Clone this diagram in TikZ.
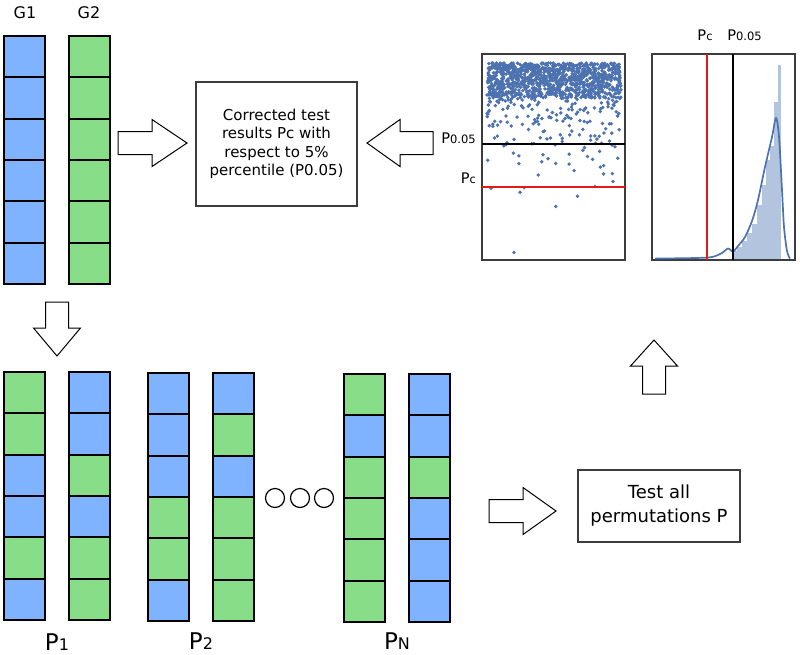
\documentclass[tikz,border=0pt]{standalone}
\usepackage{fontspec}
\setmainfont{DejaVu Sans}
\usepackage{tikz}
\usetikzlibrary{calc}

\definecolor{cb}{RGB}{127,178,255}
\definecolor{cg}{RGB}{136,221,136}
\definecolor{dotblue}{RGB}{76,114,176}
\definecolor{barblue}{RGB}{178,196,222}
\definecolor{frame}{RGB}{60,60,60}
\definecolor{pcred}{RGB}{230,25,25}

% big P with a smaller index after it
\newcommand{\plab}[3]{{\fontsize{#1}{#1}\selectfont P}{\fontsize{#2}{#2}\selectfont #3}}
% hollow block arrow: start, angle, length, head length
\newcommand{\fatarrow}[4]{%
\draw[fatarr,shift={#1},rotate=#2] (0,-11.5) -- (#3-#4,-11.5) -- (#3-#4,-23.5) -- (#3,0)
  -- (#3-#4,23.5) -- (#3-#4,11.5) -- (0,11.5) -- cycle;}
% one column of six cells: top left corner, colours
\newcommand{\gcolumn}[2]{%
\begin{scope}[shift={#1}]
\foreach \c [count=\i from 0] in {#2}
  \fill[\c] (0,\i*41.3) rectangle ++(41,41.3);
\foreach \i in {0,...,5}
  \draw[cell] (0,\i*41.3) rectangle ++(41,41.3);
\end{scope}}

\begin{document}
\begin{tikzpicture}[x=1pt,y=-1pt,
cell/.style={draw=black,line width=2pt},
box/.style={draw=frame,line width=1.1pt,fill=white,align=center,inner sep=0pt},
fatarr/.style={draw=black,line width=1pt,fill=white,line join=miter},
plotframe/.style={draw=frame,line width=1.1pt,inner sep=0pt},
ring/.style={circle,draw=black,line width=1.2pt,minimum size=19,inner sep=0pt}]
\useasboundingbox (0,0) rectangle (800,654);

% the two groups
\node (lG1) at (25,13) {\fontsize{16}{16}\selectfont G1};
\node (lG2) at (89,13) {\fontsize{16}{16}\selectfont G2};
\gcolumn{(4,36)}{cb,cb,cb,cb,cb,cb}
\gcolumn{(69,36)}{cg,cg,cg,cg,cg,cg}

% permutations
\gcolumn{(4,372)}{cg,cg,cb,cb,cg,cb}
\gcolumn{(69,372)}{cb,cb,cg,cb,cg,cg}
\gcolumn{(148,373)}{cb,cb,cb,cg,cg,cb}
\gcolumn{(213,373)}{cb,cg,cb,cg,cg,cg}
\gcolumn{(344,374)}{cg,cb,cg,cg,cg,cg}
\gcolumn{(409,374)}{cb,cb,cg,cb,cb,cb}
\node[anchor=base] (lP1) at (57,650) {\plab{23}{16}{1}};
\node[anchor=base] (lP2) at (201,649) {\plab{23}{16}{2}};
\node[anchor=base] (lPN) at (397,649) {\plab{23}{16}{N}};
\node[ring] (dotA) at (275,498) {};
\node[ring] (dotB) at (300,498) {};
\node[ring] (dotC) at (324,498) {};

% boxes
\node[box,minimum width=161,minimum height=124,font=\fontsize{15}{18.3}\selectfont] (corr) at (276.5,144)
  {Corrected test\\results Pc with\\respect to 5\%\\percentile (P0.05)};
\node[box,minimum width=162,minimum height=72,font=\fontsize{18}{24}\selectfont] (testall) at (659,506)
  {Test all\\permutations P};

% arrows
\fatarrow{(118,143)}{0}{69}{35}
\fatarrow{(433,143)}{180}{66}{33}
\fatarrow{(57,302)}{-90}{54}{28}
\fatarrow{(654,394)}{90}{54}{26}
\fatarrow{(489,511)}{0}{67}{33}

% scatter of the permutation results
\node[plotframe,minimum width=143,minimum height=206] (scat) at (553.5,157) {};
\pgfmathsetseed{11}
\foreach \i in {1,...,1300}{
  \pgfmathsetmacro\px{487+134*rnd}
  \pgfmathsetmacro\py{rnd<0.55 ? 63+35*rnd : min(63-31*ln(rnd+0.0003),255)}
  \fill[dotblue] (\px,\py) circle (1.9);
}
\coordinate (sA) at (482,144);
\coordinate (sB) at (625,144);
\coordinate (sC) at (482,187);
\coordinate (sD) at (625,187);
\draw[line width=1.8pt,black] (sA)--(sB);
\draw[line width=1.8pt,pcred] (sC)--(sD);
\node[anchor=base] (sP05) at (458.5,143) {\plab{14.6}{11.5}{0.05}};
\node[anchor=base] (sPc) at (468.5,183) {\plab{14.6}{11.5}{c}};

% histogram
\node[plotframe,minimum width=143,minimum height=206] (hist) at (723.5,157) {};
\foreach \xa/\xb/\t in {732/737/251,737/742/247,742/747/241,747/752/233,752/757/224,757/762/205,
  762/766/185,766/770/160,770/774/146,774/778/102,778/781/65}
  \fill[barblue] (\xa,259) rectangle (\xb,\t);
\draw[dotblue,line width=1.7pt] plot[smooth,tension=0.5] coordinates {(655,258.6) (695,258) (712,257)
  (722,253) (728,248.5) (733,251.5) (738,246) (745,237) (752,221) (758,200) (765,167) (772,137)
  (776,118) (779,137) (782,190) (784,227) (787,251) (790,258.6)};
\coordinate (hA) at (707,54);
\coordinate (hB) at (707,260);
\coordinate (hC) at (733,54);
\coordinate (hD) at (733,260);
\draw[line width=1.8pt,pcred] (hA)--(hB);
\draw[line width=1.8pt,black] (hC)--(hD);
\node[anchor=base] (hPc) at (705,40) {\plab{14.6}{11.5}{c}};
\node[anchor=base] (hP05) at (744.5,40) {\plab{14.6}{11.5}{0.05}};
\end{tikzpicture}
\end{document}
